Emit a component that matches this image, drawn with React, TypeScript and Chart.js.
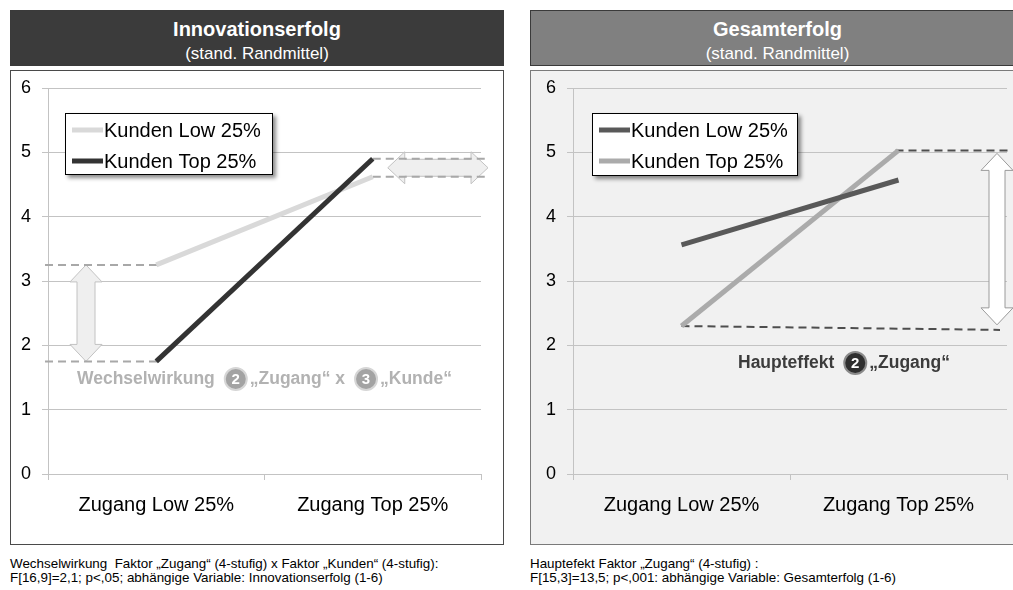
import React, { useEffect, useRef } from 'react';
import { Chart, registerables } from 'chart.js';

Chart.register(...registerables);

const FONT = '"Liberation Sans", Arial, Helvetica, sans-serif';
Chart.defaults.font.family = FONT;

// Shared categories and series
const categories = ['Zugang Low 25%', 'Zugang Top 25%'];
const seriesNames = ['Kunden Low 25%', 'Kunden Top 25%'];
const yMin = 0;
const yMax = 6;
const yStep = 1;

// Innovationserfolg (stand. Randmittel)
const innovKundenLow = [3.25, 4.62];
const innovKundenTop = [1.75, 4.9];

// Gesamterfolg (stand. Randmittel)
const gesamtKundenLow = [3.56, 4.57];
const gesamtKundenTop = [2.3, 5.03];
const gesamtBaselineEnd = 2.24;

const GRID = '#c3c3c3';

type Ctx = CanvasRenderingContext2D;

function dashed(ctx: Ctx, x1: number, y1: number, x2: number, y2: number, color: string) {
  ctx.save();
  ctx.strokeStyle = color;
  ctx.lineWidth = 2;
  ctx.setLineDash([8, 5]);
  ctx.beginPath();
  ctx.moveTo(x1, y1);
  ctx.lineTo(x2, y2);
  ctx.stroke();
  ctx.restore();
}

function vArrow(ctx: Ctx, x: number, y1: number, y2: number, sh: number, hh: number, hl: number, fill: string, stroke: string) {
  ctx.save();
  ctx.beginPath();
  ctx.moveTo(x, y1);
  ctx.lineTo(x + hh, y1 + hl);
  ctx.lineTo(x + sh, y1 + hl);
  ctx.lineTo(x + sh, y2 - hl);
  ctx.lineTo(x + hh, y2 - hl);
  ctx.lineTo(x, y2);
  ctx.lineTo(x - hh, y2 - hl);
  ctx.lineTo(x - sh, y2 - hl);
  ctx.lineTo(x - sh, y1 + hl);
  ctx.lineTo(x - hh, y1 + hl);
  ctx.closePath();
  ctx.fillStyle = fill;
  ctx.fill();
  ctx.strokeStyle = stroke;
  ctx.lineWidth = 1;
  ctx.stroke();
  ctx.restore();
}

function hArrow(ctx: Ctx, x1: number, x2: number, y: number, sh: number, hh: number, hl: number, fill: string, stroke: string) {
  ctx.save();
  ctx.beginPath();
  ctx.moveTo(x1, y);
  ctx.lineTo(x1 + hl, y - hh);
  ctx.lineTo(x1 + hl, y - sh);
  ctx.lineTo(x2 - hl, y - sh);
  ctx.lineTo(x2 - hl, y - hh);
  ctx.lineTo(x2, y);
  ctx.lineTo(x2 - hl, y + hh);
  ctx.lineTo(x2 - hl, y + sh);
  ctx.lineTo(x1 + hl, y + sh);
  ctx.lineTo(x1 + hl, y + hh);
  ctx.closePath();
  ctx.fillStyle = fill;
  ctx.fill();
  ctx.strokeStyle = stroke;
  ctx.lineWidth = 1;
  ctx.stroke();
  ctx.restore();
}

type Part = { text: string } | { badge: string };

function annotation(ctx: Ctx, x: number, y: number, parts: Part[], color: string, badgeFill: string, badgeRing: string) {
  ctx.save();
  ctx.textBaseline = 'middle';
  let cx = x;
  const r = 11;
  parts.forEach((p) => {
    if ('text' in p) {
      ctx.fillStyle = color;
      ctx.font = `bold 17.5px ${FONT}`;
      ctx.fillText(p.text, cx, y);
      cx += ctx.measureText(p.text).width + 10;
    } else {
      ctx.beginPath();
      ctx.arc(cx + r, y, r, 0, Math.PI * 2);
      ctx.fillStyle = badgeFill;
      ctx.fill();
      ctx.lineWidth = 2;
      ctx.strokeStyle = badgeRing;
      ctx.stroke();
      ctx.fillStyle = '#fff';
      ctx.font = `bold 15px ${FONT}`;
      ctx.textAlign = 'center';
      ctx.fillText(p.badge, cx + r, y + 1);
      ctx.textAlign = 'left';
      cx += 2 * r + 3;
    }
  });
  ctx.restore();
}

function legendBox(chart: Chart, x: number, y: number, w: number, h: number) {
  const ctx = chart.ctx;
  ctx.save();
  ctx.shadowColor = 'rgba(0,0,0,0.45)';
  ctx.shadowBlur = 4;
  ctx.shadowOffsetX = 3;
  ctx.shadowOffsetY = 3;
  ctx.fillStyle = '#fff';
  ctx.fillRect(x, y, w, h);
  ctx.restore();
  ctx.save();
  ctx.strokeStyle = '#000';
  ctx.lineWidth = 1;
  ctx.strokeRect(x + 0.5, y + 0.5, w - 1, h - 1);
  ctx.font = `20px ${FONT}`;
  ctx.textBaseline = 'middle';
  chart.data.datasets.forEach((ds: any, i: number) => {
    const cy = y + 17 + i * 31;
    ctx.strokeStyle = ds.borderColor;
    ctx.lineWidth = 5;
    ctx.beginPath();
    ctx.moveTo(x + 7, cy);
    ctx.lineTo(x + 38, cy);
    ctx.stroke();
    ctx.fillStyle = '#000';
    ctx.fillText(ds.label, x + 39, cy + 1);
  });
  ctx.restore();
}

function innovOverlayBack(chart: Chart) {
  const { ctx, chartArea: a } = chart;
  const xs = chart.scales.x;
  const ys = chart.scales.y;
  const x0 = xs.getPixelForValue(0);
  const x1 = xs.getPixelForValue(1);
  const yL0 = ys.getPixelForValue(innovKundenLow[0]);
  const yT0 = ys.getPixelForValue(innovKundenTop[0]);
  const yL1 = ys.getPixelForValue(innovKundenLow[1]);
  const yT1 = ys.getPixelForValue(innovKundenTop[1]);
  vArrow(ctx, a.left + 38, yL0, yT0, 9, 16, 17, '#efefef', '#c2c2c2');
  hArrow(ctx, x1 + 15, a.right + 7, (yL1 + yT1) / 2, 8.5, 16, 17, '#efefef', '#c2c2c2');
  const c = '#a8a8a8';
  dashed(ctx, a.left - 3, yL0, x0 + 3, yL0, c);
  dashed(ctx, a.left - 3, yT0, x0 + 3, yT0, c);
  dashed(ctx, x1, yT1, a.right + 4, yT1, c);
  dashed(ctx, x1, yL1, a.right + 4, yL1, c);
}

function innovOverlayFront(chart: Chart) {
  const a = chart.chartArea;
  legendBox(chart, a.left + 17, a.top + 25, 208, 62);
  annotation(
    chart.ctx,
    a.left + 29,
    a.bottom - 95,
    [{ text: 'Wechselwirkung' }, { badge: '2' }, { text: '\u201EZugang\u201C x' }, { badge: '3' }, { text: '\u201EKunde\u201C' }],
    '#b2b2b2',
    '#a3a3a3',
    '#d6d6d6'
  );
}

function gesamtOverlayBack(chart: Chart) {
  const { ctx, chartArea: a } = chart;
  const xs = chart.scales.x;
  const ys = chart.scales.y;
  const x0 = xs.getPixelForValue(0);
  const x1 = xs.getPixelForValue(1);
  const yTop = ys.getPixelForValue(gesamtKundenTop[1]);
  const yB0 = ys.getPixelForValue(gesamtKundenTop[0]);
  const yB1 = ys.getPixelForValue(gesamtBaselineEnd);
  const xEnd = a.right - 7;
  const ax = a.right - 10;
  const yBatArrow = yB0 + ((yB1 - yB0) * (ax - x0)) / (xEnd - x0);
  vArrow(ctx, ax, yTop + 3, yBatArrow - 5, 8, 16, 17, '#ffffff', '#9a9a9a');
  const c = '#4e4e4e';
  dashed(ctx, x1 - 3, yTop, a.right + 1, yTop, c);
  dashed(ctx, x0, yB0, xEnd, yB1, c);
}

function gesamtOverlayFront(chart: Chart) {
  const a = chart.chartArea;
  legendBox(chart, a.left + 19, a.top + 25, 206, 63);
  annotation(
    chart.ctx,
    a.left + 165,
    a.bottom - 111,
    [{ text: 'Haupteffekt' }, { badge: '2' }, { text: '\u201EZugang\u201C' }],
    '#3c3c3c',
    '#2f2f2f',
    '#8a8a8a'
  );
}

type PanelProps = {
  x: number;
  width: number;
  title: string;
  headerBg: string;
  boxBg: string;
  boxBorder: string;
  canvasWidth: number;
  axisWidth: number;
  padRight: number;
  low: number[];
  top: number[];
  lowColor: string;
  topColor: string;
  lowOrder: number;
  topOrder: number;
  back: (c: Chart) => void;
  front: (c: Chart) => void;
  footnote: string[];
};

function Panel(p: PanelProps) {
  const ref = useRef<HTMLCanvasElement>(null);

  useEffect(() => {
    if (!ref.current) return;
    const chart = new Chart(ref.current, {
      type: 'line',
      data: {
        labels: categories,
        datasets: [
          {
            label: seriesNames[0],
            data: p.low,
            borderColor: p.lowColor,
            backgroundColor: p.lowColor,
            borderWidth: 5,
            pointRadius: 0,
            borderCapStyle: 'butt',
            order: p.lowOrder,
          },
          {
            label: seriesNames[1],
            data: p.top,
            borderColor: p.topColor,
            backgroundColor: p.topColor,
            borderWidth: 5,
            pointRadius: 0,
            borderCapStyle: 'butt',
            order: p.topOrder,
          },
        ],
      },
      options: {
        responsive: false,
        animation: false,
        events: [],
        layout: { padding: { top: 17, right: p.padRight, left: 0, bottom: 0 } },
        plugins: { legend: { display: false }, tooltip: { enabled: false } },
        scales: {
          x: {
            type: 'category',
            offset: true,
            grid: { offset: true, drawOnChartArea: false, drawTicks: true, tickLength: 6, color: GRID },
            border: { display: true, color: GRID },
            ticks: { color: '#000', font: { size: 20, family: FONT }, padding: 13, maxRotation: 0 },
            afterFit: (s: any) => {
              s.height = 70;
              s.paddingLeft = 0;
              s.paddingRight = 0;
            },
          },
          y: {
            min: yMin,
            max: yMax,
            ticks: { stepSize: yStep, color: '#000', font: { size: 18, family: FONT }, padding: 11 },
            grid: { color: GRID, tickLength: 6 },
            border: { display: true, color: GRID },
            afterFit: (s: any) => {
              s.width = p.axisWidth;
              s.paddingTop = 0;
              s.paddingBottom = 0;
            },
          },
        },
      },
      plugins: [
        {
          id: 'panelOverlay',
          beforeDatasetsDraw: (c: Chart) => p.back(c),
          afterDatasetsDraw: (c: Chart) => p.front(c),
        },
      ],
    });
    return () => chart.destroy();
  }, []);

  return (
    <>
      <div
        style={{
          position: 'absolute',
          left: p.x,
          top: 10,
          width: p.width,
          height: 56,
          background: p.headerBg,
          color: '#fff',
          textAlign: 'center',
          fontFamily: FONT,
          boxSizing: 'border-box',
          border: '1px solid #3a3a3a',
        }}
      >
        <div style={{ position: 'absolute', left: 0, right: 0, top: 6, lineHeight: '24px', fontSize: 20, fontWeight: 700 }}>
          {p.title}
        </div>
        <div style={{ position: 'absolute', left: 0, right: 0, top: 33, lineHeight: '20px', fontSize: 17 }}>
          (stand. Randmittel)
        </div>
      </div>
      <div
        style={{
          position: 'absolute',
          left: p.x,
          top: 70,
          width: p.width,
          height: 475,
          background: p.boxBg,
          border: `1px solid ${p.boxBorder}`,
          boxSizing: 'border-box',
        }}
      >
        <canvas ref={ref} width={p.canvasWidth} height={473} style={{ display: 'block', width: p.canvasWidth, height: 473 }} />
      </div>
      <div
        style={{
          position: 'absolute',
          left: p.x,
          top: 557,
          fontFamily: FONT,
          fontSize: 13.4,
          lineHeight: '14px',
          color: '#000',
          whiteSpace: 'pre',
        }}
      >
        {p.footnote.join('\n')}
      </div>
    </>
  );
}

export default function App() {
  return (
    <div style={{ position: 'absolute', left: 0, top: 0, width: 1013, height: 590, overflow: 'hidden', background: '#fff' }}>
      <Panel
        x={10}
        width={494}
        title="Innovationserfolg"
        headerBg="#3b3b3b"
        boxBg="#ffffff"
        boxBorder="#4a4a4a"
        canvasWidth={492}
        axisWidth={37}
        padRight={22}
        low={innovKundenLow}
        top={innovKundenTop}
        lowColor="#d9d9d9"
        topColor="#333333"
        lowOrder={1}
        topOrder={0}
        back={innovOverlayBack}
        front={innovOverlayFront}
        footnote={[
          'Wechselwirkung  Faktor \u201EZugang\u201C (4-stufig) x Faktor \u201EKunden\u201C (4-stufig):',
          'F[16,9]=2,1; p<,05; abh\u00E4ngige Variable: Innovationserfolg (1-6)',
        ]}
      />
      <Panel
        x={530}
        width={495}
        title="Gesamterfolg"
        headerBg="#808080"
        boxBg="#f1f1f1"
        boxBorder="#7a7a7a"
        canvasWidth={482}
        axisWidth={42}
        padRight={6}
        low={gesamtKundenLow}
        top={gesamtKundenTop}
        lowColor="#595959"
        topColor="#ababab"
        lowOrder={0}
        topOrder={1}
        back={gesamtOverlayBack}
        front={gesamtOverlayFront}
        footnote={[
          'Hauptefekt Faktor \u201EZugang\u201C (4-stufig) :',
          'F[15,3]=13,5; p<,001: abh\u00E4ngige Variable: Gesamterfolg (1-6)',
        ]}
      />
    </div>
  );
}
